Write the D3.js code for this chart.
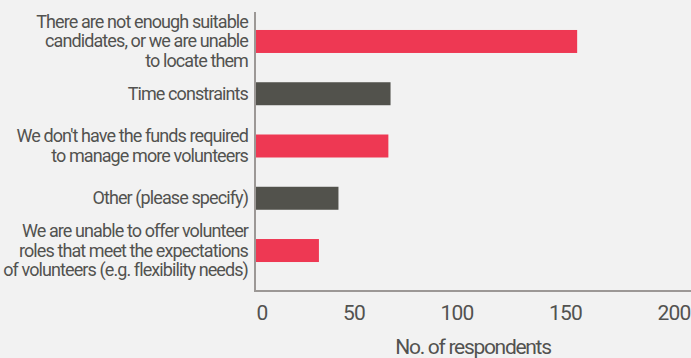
<!DOCTYPE html>
<html>
<head>
<meta charset="utf-8">
<script src="https://cdn.jsdelivr.net/npm/d3@7"></script>
<style>
  html, body { margin: 0; padding: 0; background: #f2f2f2; }
  svg { display: block; }
  text { font-family: Roboto, "Liberation Sans", Arial, sans-serif; fill: #525250; }
</style>
</head>
<body>
<svg id="chart" width="691" height="358"></svg>
<script>
// Data
const categories = [
  "There are not enough suitable|candidates, or we are unable|to locate them",
  "Time constraints",
  "We don't have the funds required|to manage more volunteers",
  "Other (please specify)",
  "We are unable to offer volunteer|roles that meet the expectations|of volunteers (e.g. flexibility needs)"
];
const values = [148, 62, 61, 38, 29];
const barColors = ["#ee3853", "#52524c", "#ee3853", "#52524c", "#ee3853"];
const xTicks = [0, 50, 100, 150, 200];
const xTitle = "No. of respondents";

const svg = d3.select("#chart");
const W = 691, H = 358;

const x = d3.scaleLinear().domain([0, 200]).range([256, 690]);
const y = d3.scaleBand().domain(categories).range([14.3, 277.7])
  .paddingInner(0.56).paddingOuter(0.3);

// bars
svg.append("g").selectAll("rect").data(categories).join("rect")
  .attr("x", x(0))
  .attr("y", d => y(d))
  .attr("width", (d, i) => x(values[i]) - x(0))
  .attr("height", y.bandwidth())
  .attr("fill", (d, i) => barColors[i]);

// axis lines
svg.append("line").attr("x1", 255).attr("x2", 255).attr("y1", 12).attr("y2", 292)
  .attr("stroke", "#9c9896").attr("stroke-width", 2);
svg.append("line").attr("x1", 254).attr("x2", W).attr("y1", 291).attr("y2", 291)
  .attr("stroke", "#9c9896").attr("stroke-width", 2);

// category labels
const lh = 19.5;
const lab = svg.append("g");
categories.forEach(c => {
  const lines = c.split("|");
  const cy = y(c) + y.bandwidth() / 2;
  const t = lab.append("text").attr("text-anchor", "end")
    .style("font-size", "18px").style("letter-spacing", "-0.9px");
  lines.forEach((ln, i) => {
    t.append("tspan").attr("x", 248)
      .attr("y", cy + 6 + (i - (lines.length - 1) / 2) * lh)
      .text(ln);
  });
});

// x axis
const xAxis = d3.axisBottom(x).tickValues(xTicks).tickSize(0).tickPadding(0);
const gx = svg.append("g").call(xAxis);
gx.select(".domain").remove();
gx.selectAll("text")
  .attr("y", 320).attr("dy", null)
  .attr("text-anchor", (d, i) => i === 0 ? "start" : "end")
  .style("font-size", "21px").style("letter-spacing", "-0.8px")
  .style("font-family", "Roboto, 'Liberation Sans', Arial, sans-serif")
  .style("fill", "#525250");

// title
svg.append("text").attr("x", (x(0) + x(200)) / 2).attr("y", 354)
  .attr("text-anchor", "middle")
  .style("font-size", "21px").style("letter-spacing", "-1.3px")
  .text(xTitle);
</script>
</body>
</html>
